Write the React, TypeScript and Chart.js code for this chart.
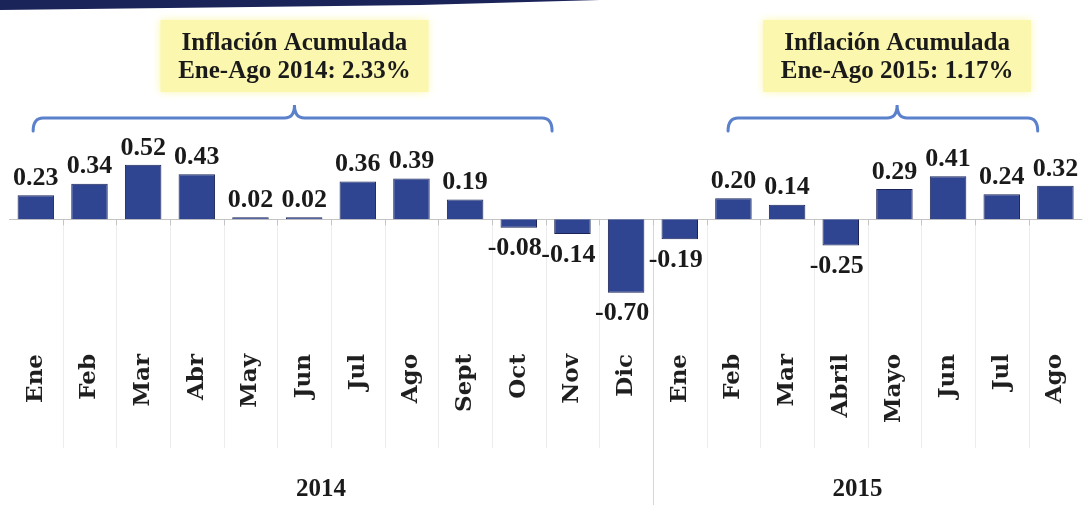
import React, { useEffect, useRef } from "react";
import { Chart, registerables } from "chart.js";

Chart.register(...registerables);

const months: string[] = [
  "Ene", "Feb", "Mar", "Abr", "May", "Jun", "Jul", "Ago", "Sept", "Oct", "Nov", "Dic",
  "Ene", "Feb", "Mar", "Abril", "Mayo", "Jun", "Jul", "Ago",
];
const inflation: number[] = [
  0.23, 0.34, 0.52, 0.43, 0.02, 0.02, 0.36, 0.39, 0.19, -0.08, -0.14, -0.7,
  -0.19, 0.2, 0.14, -0.25, 0.29, 0.41, 0.24, 0.32,
];
const years: string[] = ["2014", "2015"];
const yearSpans: number[][] = [[0, 11], [12, 19]];
const noteLines: string[][] = [
  ["Inflación Acumulada", "Ene-Ago 2014: 2.33%"],
  ["Inflación Acumulada", "Ene-Ago 2015: 1.17%"],
];
// brace extents in category index units: [start, end, tip]
const braceSpans: number[][] = [[-0.05, 9.62, 4.82], [12.9, 18.67, 16.05]];

const decorPlugin = {
  id: "decor",
  beforeDatasetsDraw(chart: any) {
    const { ctx, chartArea, scales } = chart;
    const x = scales.x;
    const y = scales.y;
    const y0 = y.getPixelForValue(0);
    const step = x.getPixelForValue(1) - x.getPixelForValue(0);
    ctx.save();
    // top banner
    ctx.fillStyle = "#1b2459";
    ctx.beginPath();
    ctx.moveTo(0, 0);
    ctx.lineTo(600, 0);
    ctx.lineTo(420, 5);
    ctx.lineTo(0, 10);
    ctx.closePath();
    ctx.fill();
    // vertical category separators
    for (let i = 1; i < months.length; i++) {
      const bx = Math.round(x.getPixelForValue(i) - step / 2) + 0.5;
      const isYear = i === yearSpans[1][0];
      ctx.strokeStyle = isYear ? "#d6d6d6" : "#ececec";
      ctx.lineWidth = 1;
      ctx.beginPath();
      ctx.moveTo(bx, y0);
      ctx.lineTo(bx, isYear ? 505 : 448);
      ctx.stroke();
      ctx.strokeStyle = "#c4c4c4";
      ctx.beginPath();
      ctx.moveTo(bx, y0);
      ctx.lineTo(bx, y0 + 6);
      ctx.stroke();
    }
    // zero line
    ctx.strokeStyle = "#c4c4c4";
    ctx.lineWidth = 1;
    ctx.beginPath();
    ctx.moveTo(chartArea.left, Math.round(y0) + 0.5);
    ctx.lineTo(chartArea.right, Math.round(y0) + 0.5);
    ctx.stroke();
    ctx.restore();
  },
  afterDatasetsDraw(chart: any) {
    const { ctx, scales } = chart;
    const x = scales.x;
    const step = x.getPixelForValue(1) - x.getPixelForValue(0);
    const meta = chart.getDatasetMeta(0);
    ctx.save();
    // value labels
    ctx.fillStyle = "#1a1a1a";
    ctx.font = "bold 26px 'Liberation Serif'";
    ctx.textAlign = "center";
    meta.data.forEach((bar: any, i: number) => {
      const v = inflation[i];
      const txt = v.toFixed(2);
      if (v >= 0) {
        ctx.textBaseline = "bottom";
        ctx.fillText(txt, bar.x, bar.y - 4);
      } else {
        ctx.textBaseline = "top";
        ctx.fillText(txt, bar.x - 4, bar.y + 8);
      }
    });
    // year labels
    ctx.font = "bold 25px 'Liberation Serif'";
    ctx.textBaseline = "middle";
    years.forEach((yr, k) => {
      const a = x.getPixelForValue(yearSpans[k][0]) - step / 2;
      const b = x.getPixelForValue(yearSpans[k][1]) + step / 2;
      ctx.fillText(yr, (a + b) / 2 - 10, 490);
    });
    // braces
    const lineY = 118;
    ctx.strokeStyle = "#5b80cc";
    ctx.lineWidth = 3;
    ctx.lineCap = "round";
    braceSpans.forEach((s) => {
      const x1 = x.getPixelForValue(s[0]);
      const x2 = x.getPixelForValue(s[1]);
      const xt = x.getPixelForValue(s[2]);
      const r = 10;
      ctx.beginPath();
      ctx.moveTo(x1, lineY + 13);
      ctx.quadraticCurveTo(x1, lineY, x1 + r, lineY);
      ctx.lineTo(xt - r, lineY);
      ctx.quadraticCurveTo(xt, lineY, xt, lineY - 13);
      ctx.quadraticCurveTo(xt, lineY, xt + r, lineY);
      ctx.lineTo(x2 - r, lineY);
      ctx.quadraticCurveTo(x2, lineY, x2, lineY + 13);
      ctx.stroke();
    });
    // annotation boxes
    braceSpans.forEach((s, k) => {
      const cx = x.getPixelForValue(s[2]);
      const w = 268;
      const top = 20;
      const h = 72;
      ctx.save();
      ctx.fillStyle = "#fbf7ae";
      ctx.shadowColor = "#fbf7ae";
      ctx.shadowBlur = 8;
      ctx.fillRect(cx - w / 2, top, w, h);
      ctx.restore();
      ctx.fillStyle = "#1a1a1a";
      ctx.font = "bold 25px 'Liberation Serif'";
      ctx.textAlign = "center";
      ctx.textBaseline = "middle";
      ctx.fillText(noteLines[k][0], cx, top + 24);
      ctx.fillText(noteLines[k][1], cx, top + 52);
    });
    ctx.restore();
  },
};

export default function App() {
  const ref = useRef<HTMLCanvasElement | null>(null);
  useEffect(() => {
    if (!ref.current) return;
    const chart = new Chart(ref.current, {
      type: "bar",
      data: {
        labels: months,
        datasets: [
          {
            data: inflation,
            backgroundColor: "#2f4592",
            borderColor: "#1c2455",
            borderWidth: 1,
            categoryPercentage: 1,
            barPercentage: 0.68,
          },
        ],
      },
      options: {
        animation: false,
        responsive: false,
        layout: { padding: { left: 9, right: 0, top: 146, bottom: 0 } },
        plugins: { legend: { display: false }, tooltip: { enabled: false } },
        scales: {
          x: {
            grid: { display: false, drawTicks: false },
            border: { display: false },
            ticks: {
              color: "#1f1f1f",
              font: { family: "'DejaVu Serif'", weight: "bold", size: 23 },
              minRotation: 90,
              maxRotation: 90,
              autoSkip: false,
              padding: 9,
            },
            afterFit: (scale: any) => {
              scale.height = 173;
            },
          },
          y: { display: false, min: -1.2, max: 0.7 },
        },
      },
      plugins: [decorPlugin],
    });
    return () => chart.destroy();
  }, []);
  return (
    <div style={{ position: "absolute", left: 0, top: 0, width: 1092, height: 518, background: "#ffffff" }}>
      <canvas ref={ref} width={1092} height={518} />
    </div>
  );
}
